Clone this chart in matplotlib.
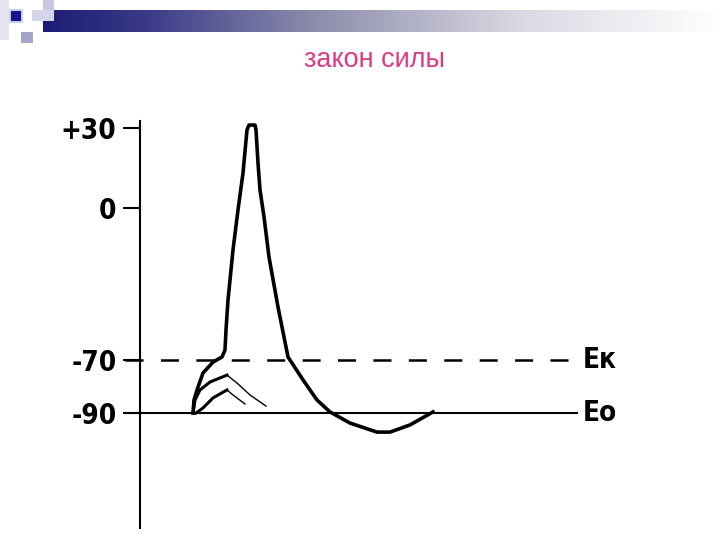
import numpy as np
import matplotlib
matplotlib.use("Agg")
import matplotlib.pyplot as plt
from matplotlib import font_manager
from matplotlib.patches import Rectangle
from matplotlib.colors import LinearSegmentedColormap

# ---------------- data ----------------
title_text = "закон силы"
tick_values = [30, 0, -70, -90]
tick_labels = ["+30", "0", "-70", "-90"]
ek_level = -70
eo_level = -90
ek_label = "Eк"
eo_label = "Eo"

# action potential (time, ms ; membrane potential, mV)
ap_t = [1.06, 1.08, 1.14, 1.26, 1.46, 1.64, 1.70, 1.72, 1.76, 1.86, 1.96, 2.06,
        2.14, 2.18, 2.30, 2.32, 2.36, 2.40, 2.48, 2.58, 2.76, 2.96, 3.26,
        3.54, 3.80, 4.20, 4.74, 5.00, 5.40, 5.86]
ap_v = [-90.0, -85.1, -81.3, -74.9, -70.8, -68.6, -65.4, -56.2, -42.4, -19.3,
        -0.9, 13.1, 29.3, 31.1, 31.1, 29.3, 16.9, 6.8, -4.1, -22.6, -45.6,
        -68.6, -77.5, -85.1, -89.6, -93.8, -97.2, -97.2, -94.5, -89.6]

# subthreshold responses: rising part and decaying part
sub1_rise_t = [1.06, 1.10, 1.20, 1.40, 1.74]
sub1_rise_v = [-90.0, -85.1, -81.3, -78.3, -75.7]
sub1_fall_t = [1.74, 1.94, 2.20, 2.52]
sub1_fall_v = [-75.7, -78.7, -83.2, -87.4]

sub2_rise_t = [1.12, 1.26, 1.46, 1.74]
sub2_rise_v = [-90.0, -88.1, -84.3, -81.3]
sub2_fall_t = [1.74, 1.86, 2.10]
sub2_fall_v = [-81.3, -83.2, -86.6]

# ---------------- fonts ----------------
names = {f.name for f in font_manager.fontManager.ttflist}
if "Liberation Sans Narrow" in names:
    tick_font = dict(family="Liberation Sans Narrow", weight="bold")
else:
    tick_font = dict(family="DejaVu Sans", weight="bold", stretch="condensed")

plt.rcParams["lines.scale_dashes"] = False

W, H = 720, 540
fig = plt.figure(figsize=(7.2, 5.4), dpi=100)
fig.patch.set_facecolor("white")

def fx(px):
    return px / W

def fy(py):
    return 1 - py / H

# ---------------- decorative header ----------------
bar_ax = fig.add_axes([fx(43), fy(32), fx(720 - 43), (32 - 10) / H])
cmap = LinearSegmentedColormap.from_list(
    "hdr", [(0, "#1c1c74"), (0.15, "#3a3a88"), (0.4, "#8c8cac"),
            (0.7, "#d8d8e2"), (1.0, "#ffffff")])
bar_ax.imshow(np.linspace(0, 1, 256)[None, :], aspect="auto", cmap=cmap,
              extent=[0, 1, 0, 1])
bar_ax.set_axis_off()

def square(x0, y0, x1, y1, color, z=5):
    fig.patches.append(Rectangle((fx(x0), fy(y1)), fx(x1 - x0), (y1 - y0) / H,
                                 transform=fig.transFigure, facecolor=color,
                                 edgecolor="none", zorder=z))

square(0, 0, 9, 40, "#e6e6f2", 1)
square(43, 0, 54, 20, "#c8c8e0", 6)
square(32, 10, 54, 21, "#d4d4ea", 6)
square(9, 9, 23, 23, "#d0d0ec", 6)
square(11, 11, 21, 21, "#12128e", 7)
square(21, 32, 33, 43, "#a4a4cc", 6)

fig.text(fx(374), fy(60), title_text, ha="center", va="center",
         color="#dc3a82", fontsize=19.5, family="Liberation Sans")

# ---------------- chart ----------------
knots_v = np.array([-140.0, -90.0, -70.0, 0.0, 30.0, 40.0])
knots_p = -np.array([413 + 50 / 0.377, 413.0, 360.0, 208.0, 128.0, 128 - 10 / 0.375])

def fwd(v):
    return np.interp(v, knots_v, knots_p)

def inv(p):
    return np.interp(p, knots_p, knots_v)

ax = fig.add_axes([fx(140), fy(528), fx(640 - 140), (528 - 121) / H])
ax.set_yscale("function", functions=(fwd, inv))
ax.set_ylim(inv(-528), inv(-121))
ax.set_xlim(0, 10)
ax.patch.set_alpha(0)

for s in ["top", "right", "bottom"]:
    ax.spines[s].set_visible(False)
ax.spines["left"].set_linewidth(1.5)
ax.set_xticks([])
ax.set_yticks(tick_values)
ax.set_yticklabels(tick_labels, fontsize=20, **tick_font)
ax.tick_params(axis="y", length=12, width=1.5, pad=5, direction="out")
ax.minorticks_off()

# resting and threshold levels
ax.plot([-0.3, 8.76], [eo_level, eo_level], color="black", lw=1.5,
        clip_on=False, solid_capstyle="butt")
ax.plot([-0.3, 8.74], [ek_level, ek_level], color="black", lw=1.8,
        clip_on=False, dashes=(13, 12.5), dash_capstyle="butt")
ax.text(8.86, eo_level, eo_label, ha="left", va="center", fontsize=20,
        **tick_font)
ax.text(8.86, ek_level, ek_label, ha="left", va="center", fontsize=20,
        **tick_font)

# curves
ax.plot(ap_t, ap_v, color="black", lw=2.6, solid_joinstyle="round")
ax.plot(sub1_rise_t, sub1_rise_v, color="black", lw=2.2)
ax.plot(sub1_fall_t, sub1_fall_v, color="black", lw=1.0)
ax.plot(sub2_rise_t, sub2_rise_v, color="black", lw=2.2)
ax.plot(sub2_fall_t, sub2_fall_v, color="black", lw=1.0)

fig.savefig("out.png", dpi=100)
